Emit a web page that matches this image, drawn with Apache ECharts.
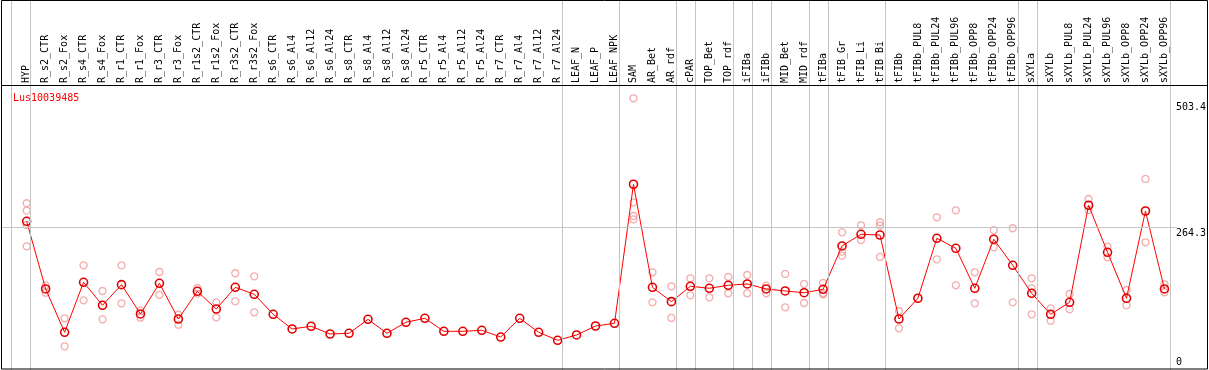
<!DOCTYPE html>
<html>
<head>
<meta charset="utf-8">
<script src="https://cdn.jsdelivr.net/npm/echarts@6/dist/echarts.min.js"></script>
<style>
html,body{margin:0;padding:0;background:#fff;}
#chart{width:1209px;height:370px;}
</style>
</head>
<body>
<div id="chart"></div>
<script>
const geneId = 'Lus10039485';
const categories = ['HYP','R_s2_CTR','R_s2_Fox','R_s4_CTR','R_s4_Fox','R_r1_CTR','R_r1_Fox','R_r3_CTR','R_r3_Fox','R_r1s2_CTR','R_r1s2_Fox','R_r3s2_CTR','R_r3s2_Fox','R_s6_CTR','R_s6_Al4','R_s6_Al12','R_s6_Al24','R_s8_CTR','R_s8_Al4','R_s8_Al12','R_s8_Al24','R_r5_CTR','R_r5_Al4','R_r5_Al12','R_r5_Al24','R_r7_CTR','R_r7_Al4','R_r7_Al12','R_r7_Al24','LEAF_N','LEAF_P','LEAF_NPK','SAM','AR_Bet','AR_rdf','cPAR','TOP_Bet','TOP_rdf','iFIBa','iFIBb','MID_Bet','MID_rdf','tFIBa','tFIB_Gr','tFIB_Li','tFIB_Bi','tFIBb','tFIBb_PUL8','tFIBb_PUL24','tFIBb_PUL96','tFIBb_OPP8','tFIBb_OPP24','tFIBb_OPP96','sXYLa','sXYLb','sXYLb_PUL8','sXYLb_PUL24','sXYLb_PUL96','sXYLb_OPP8','sXYLb_OPP24','sXYLb_OPP96'];
const meanValues = [275.5,150.1,69.9,162.5,119.9,158.1,103.8,160.6,94.5,145.8,113.0,153.2,140.3,103.2,76.0,81.0,66.7,68.0,93.9,68.0,88.4,95.8,71.7,71.7,73.6,61.1,95.8,69.9,55.0,64.9,81.5,86.5,344.1,153.2,126.6,155.1,151.4,156.9,159.4,150.1,146.4,143.2,149.5,229.8,251.4,250.1,94.5,132.9,244.0,225.5,151.4,242.2,194.0,142.1,103.2,125.4,305.2,218.1,132.9,294.6,150.1];
const replicateValues = [
  [308.9,295.2,268.7,229.2],[156.9,143.2],[95.8,43.9],[194.0,129.1],[146.4,93.9],[194.0,123.6],[109.9,96.9],[181.6,139.0],[102.5,83.9],[151.9,141.4],[125.4,97.6],[179.2,127.3],[173.6,106.9],
  [],[],[],[],[],[],[],[],[],[],[],[],[],[],[],[],[],[],[],
  [503.4,310.7,285.3,279.2],[181.0,125.4],[155.1,96.4],[169.9,138.4],[169.9,134.7],[172.3,142.1],[176.0,142.1],[156.2,142.1],[177.9,116.2],[159.4,124.1],[161.2,142.1,140.3],
  [255.1,219.2,211.8],[268.1,240.9],[273.7,267.4,209.4],[109.3,77.3],[],[282.9,205.1],[295.9,156.9],[181.0,123.6],[258.9,227.4],[262.6,125.4],
  [169.9,151.4,103.2],[114.3,91.3],[140.8,112.5],[316.8,296.5],[228.5,208.8],[148.2,119.9],[353.9,236.6],[158.8,144.0]
];
const yTickLabels = [0, 264.3, 503.4];
const referenceLineValue = 264.3;
const separatorsAfter = [-1,0,28,31,34,35,37,38,39,41,42,45,52,53,60];

const FONT = 'DejaVu Sans Mono';
const repData = [];
replicateValues.forEach((arr, i) => arr.forEach(v => repData.push([i, v])));

const chart = echarts.init(document.getElementById('chart'), null, {renderer: 'canvas'});
const yMax = 528;
const gridAH = 285;
const pxPerUnit = gridAH / yMax;
const option = {
  animation: false,
  backgroundColor: '#ffffff',
  title: {
    text: geneId, left: 8, top: 88,
    textStyle: {color: '#ff0000', fontFamily: FONT, fontSize: 10, fontWeight: 'normal'}
  },
  grid: [
    {left: 17.2, width: 1159, top: 85, bottom: 0, containLabel: false},
    {left: 1, width: 1176, top: 0, bottom: 0, containLabel: false}
  ],
  xAxis: [
    {
      type: 'category', gridIndex: 0, position: 'top', data: categories, boundaryGap: true,
      axisLine: {show: false}, axisTick: {show: false}, splitLine: {show: false},
      axisLabel: {interval: 0, rotate: 90, margin: 2, color: '#000', fontFamily: FONT, fontSize: 10}
    },
    {
      type: 'value', gridIndex: 1, min: (1 - 26.7) / 19, max: (1 - 26.7) / 19 + 1176 / 19, show: false
    }
  ],
  yAxis: [
    {
      type: 'value', gridIndex: 0, position: 'right', min: 0, max: yMax,
      axisLine: {show: false}, axisTick: {show: false}, splitLine: {show: false},
      axisLabel: {
        show: true, margin: 2, color: '#000', fontFamily: FONT, fontSize: 10,
        customValues: yTickLabels,
        formatter: function (v) {
          if (v === 0) return '{b|0}';
          if (v > 400) return '{t|' + v + '}';
          return '{m|' + v + '}';
        },
        rich: {
          t: {fontFamily: FONT, fontSize: 10, color: '#000', padding: [18, 0, 0, 0]},
          m: {fontFamily: FONT, fontSize: 10, color: '#000', padding: [12, 0, 0, 0]},
          b: {fontFamily: FONT, fontSize: 10, color: '#000', padding: [0, 0, 16, 0]}
        }
      }
    },
    {
      type: 'value', gridIndex: 1, min: 0, max: 370 / pxPerUnit, show: false
    }
  ],
  graphic: [
    {type: 'rect', silent: true, z: 100, shape: {x: 1.5, y: 0.5, width: 1206, height: 368.5}, style: {fill: 'none', stroke: '#000', lineWidth: 1}},
    {type: 'line', silent: true, z: 100, shape: {x1: 1, y1: 85.5, x2: 1208, y2: 85.5}, style: {stroke: '#000', lineWidth: 1}}
  ],
  series: [
    {
      type: 'line', xAxisIndex: 1, yAxisIndex: 1, data: [], silent: true, z: 1,
      markLine: {
        silent: true, symbol: ['none', 'none'], label: {show: false}, animation: false,
        lineStyle: {color: '#c4c4c4', type: 'solid', width: 1},
        emphasis: {disabled: true},
        data: separatorsAfter.map(i => ({xAxis: i + 4 / 19})).concat([{yAxis: referenceLineValue}])
      }
    },
    {
      name: 'replicates', type: 'scatter', xAxisIndex: 0, yAxisIndex: 0, data: repData, z: 2,
      symbol: 'circle', symbolSize: 7,
      itemStyle: {color: 'rgba(0,0,0,0)', borderColor: '#f09898', borderWidth: 1.3}
    },
    {
      name: 'mean', type: 'line', xAxisIndex: 0, yAxisIndex: 0, data: meanValues, z: 3,
      symbol: 'circle', symbolSize: 8, showAllSymbol: true,
      lineStyle: {color: '#ff0000', width: 1},
      itemStyle: {color: 'rgba(0,0,0,0)', borderColor: '#e00000', borderWidth: 1.6}
    }
  ]
};
chart.setOption(option);
</script>
</body>
</html>
